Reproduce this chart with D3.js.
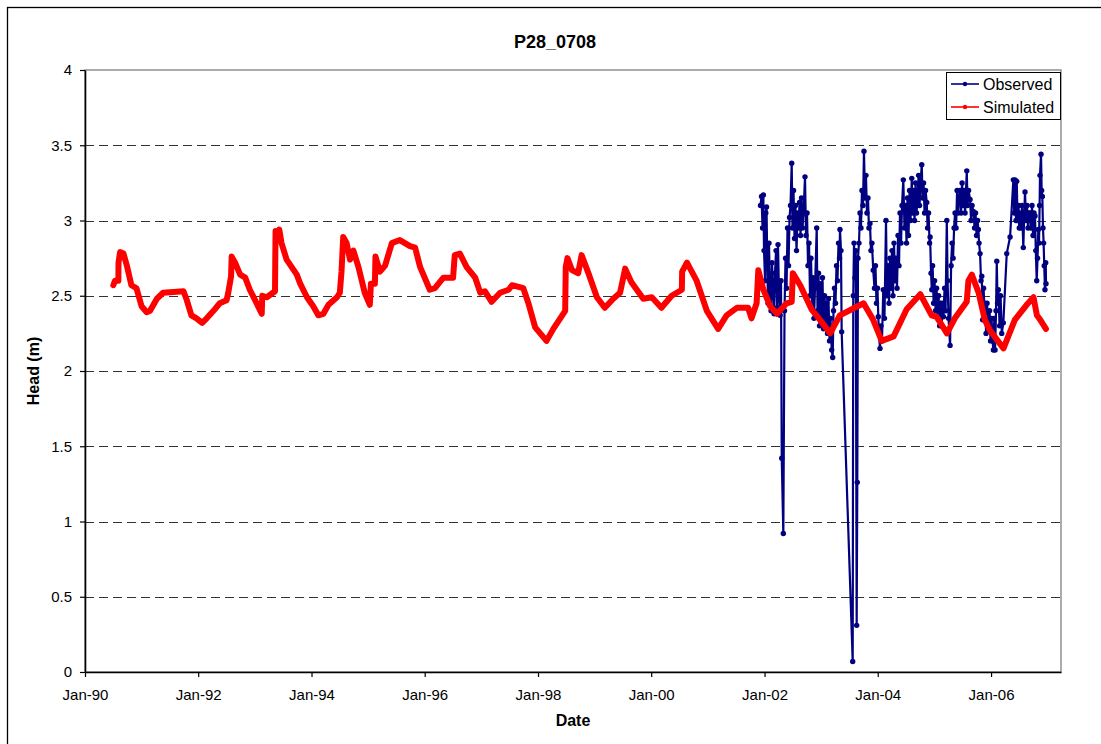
<!DOCTYPE html>
<html>
<head>
<meta charset="utf-8">
<script src="https://cdn.jsdelivr.net/npm/d3@7"></script>
<style>
  body { margin: 0; background: #fff; }
  text { font-family: "Liberation Sans", Arial, sans-serif; fill: #000; }
</style>
</head>
<body>
<svg id="chart" width="1101" height="744"></svg>
<script>
// times are decimal years, heads in m
var simT = [
  1990.50,1990.53,1990.59,1990.592,1990.62,1990.68,1990.74,1990.82,1990.91,1991.00,
  1991.09,1991.15,1991.27,1991.38,1991.74,1991.80,1991.88,1991.97,1992.07,1992.15,
  1992.27,1992.38,1992.50,1992.53,1992.58,1992.59,1992.65,1992.74,1992.83,1992.91,
  1993.03,1993.12,1993.13,1993.21,1993.355,1993.36,1993.365,1993.39,1993.43,1993.47,
  1993.56,1993.74,1993.80,1993.92,1994.03,1994.12,1994.21,1994.30,1994.45,1994.50,
  1994.53,1994.56,1994.62,1994.68,1994.74,1994.83,1994.94,1995.03,1995.05,1995.12,
  1995.13,1995.21,1995.30,1995.42,1995.56,1995.74,1995.83,1995.92,1996.09,1996.18,
  1996.33,1996.50,1996.53,1996.62,1996.74,1996.89,1996.98,1997.06,1997.18,1997.33,
  1997.48,1997.54,1997.74,1997.83,1997.95,1998.15,1998.27,1998.48,1998.49,1998.52,
  1998.60,1998.71,1998.77,1998.89,1999.04,1999.18,1999.33,1999.45,1999.54,1999.65,
  1999.86,2000.01,2000.18,2000.36,2000.54,2000.545,2000.63,2000.80,2000.98,2001.18,
  2001.33,2001.51,2001.71,2001.77,2001.86,2001.89,2001.98,2002.10,2002.22,2002.39,
  2002.48,2002.50,2002.63,2002.83,2002.98,2003.16,2003.33,2003.75,2003.92,2004.07,
  2004.28,2004.51,2004.75,2004.95,2005.04,2005.22,2005.36,2005.57,2005.60,2005.66,
  2005.78,2005.89,2005.98,2006.22,2006.42,2006.63,2006.75,2006.81,2006.87,2006.97
];
var simHead = [
  2.57,2.60,2.60,2.72,2.79,2.78,2.70,2.57,2.55,2.43,
  2.39,2.40,2.48,2.52,2.53,2.47,2.37,2.35,2.32,2.35,
  2.40,2.45,2.47,2.52,2.63,2.76,2.72,2.64,2.62,2.54,
  2.45,2.38,2.50,2.49,2.53,2.76,2.93,2.89,2.94,2.85,
  2.74,2.64,2.58,2.49,2.43,2.37,2.38,2.44,2.49,2.52,
  2.66,2.89,2.85,2.74,2.80,2.69,2.52,2.44,2.58,2.58,
  2.76,2.66,2.70,2.85,2.87,2.83,2.82,2.69,2.54,2.55,
  2.62,2.62,2.77,2.78,2.69,2.62,2.52,2.53,2.46,2.52,
  2.54,2.57,2.55,2.45,2.29,2.20,2.28,2.40,2.69,2.75,
  2.67,2.65,2.77,2.65,2.49,2.42,2.48,2.52,2.68,2.59,
  2.48,2.49,2.42,2.50,2.54,2.66,2.72,2.60,2.40,2.28,
  2.37,2.42,2.42,2.35,2.45,2.67,2.54,2.43,2.38,2.45,
  2.46,2.65,2.57,2.41,2.34,2.25,2.37,2.45,2.34,2.20,
  2.23,2.41,2.51,2.37,2.36,2.25,2.35,2.46,2.60,2.64,
  2.52,2.34,2.27,2.15,2.34,2.44,2.49,2.37,2.34,2.28
];
var obsT = [
  2001.929,2001.947,2001.965,2001.979,2001.991,2002.009,2002.023,2002.035,2002.049,2002.062,
  2002.079,2002.097,2002.115,2002.132,2002.150,2002.168,2002.185,2002.203,2002.221,2002.238,
  2002.256,2002.274,2002.291,2002.304,2002.332,2002.353,2002.371,2002.389,2002.406,2002.424,
  2002.442,2002.459,2002.480,2002.494,2002.512,2002.530,2002.547,2002.565,2002.583,2002.600,
  2002.618,2002.636,2002.653,2002.671,2002.689,2002.715,2002.733,2002.751,2002.768,2002.786,
  2002.804,2002.821,2002.839,2002.857,2002.874,2002.892,2002.922,2002.936,2002.954,2002.971,
  2002.989,2003.007,2003.024,2003.042,2003.060,2003.077,2003.095,2003.113,2003.130,2003.148,
  2003.166,2003.187,2003.204,2003.219,2003.236,2003.254,2003.272,2003.289,2003.307,2003.325,
  2003.333,2003.351,2003.363,2003.558,2003.568,2003.581,2003.598,2003.612,2003.628,2003.639,
  2003.651,2003.669,2003.687,2003.704,2003.722,2003.740,2003.757,2003.775,2003.792,2003.810,
  2003.828,2003.845,2003.863,2003.881,2003.898,2003.921,2003.943,2003.960,2003.978,2003.996,
  2004.010,2004.022,2004.040,2004.057,2004.075,2004.098,2004.119,2004.146,2004.163,2004.181,
  2004.199,2004.216,2004.234,2004.252,2004.269,2004.287,2004.305,2004.322,2004.340,2004.358,
  2004.375,2004.393,2004.411,2004.428,2004.451,2004.472,2004.490,2004.508,2004.525,2004.543,
  2004.561,2004.578,2004.600,2004.614,2004.631,2004.649,2004.667,2004.684,2004.702,2004.720,
  2004.737,2004.755,2004.776,2004.790,2004.808,2004.826,2004.843,2004.864,2004.879,2004.896,
  2004.914,2004.923,2004.940,2004.953,2004.967,2004.985,2005.002,2005.020,2005.038,2005.055,
  2005.073,2005.091,2005.108,2005.126,2005.144,2005.158,2005.179,2005.196,2005.218,2005.232,
  2005.249,2005.276,2005.294,2005.311,2005.329,2005.347,2005.364,2005.382,2005.400,2005.417,
  2005.435,2005.453,2005.470,2005.488,2005.506,2005.523,2005.541,2005.571,2005.585,2005.603,
  2005.629,2005.647,2005.664,2005.687,2005.709,2005.726,2005.744,2005.762,2005.776,2005.788,
  2005.806,2005.823,2005.836,2005.850,2005.868,2005.885,2005.894,2005.912,2005.929,2005.952,
  2005.974,2005.991,2006.009,2006.027,2006.041,2006.057,2006.071,2006.088,2006.101,2006.115,
  2006.129,2006.150,2006.168,2006.189,2006.217,2006.277,2006.336,2006.394,2006.410,2006.424,
  2006.441,2006.454,2006.468,2006.486,2006.498,2006.512,2006.530,2006.547,2006.570,2006.583,
  2006.600,2006.618,2006.636,2006.653,2006.671,2006.689,2006.706,2006.724,2006.742,2006.759,
  2006.777,2006.791,2006.807,2006.821,2006.835,2006.848,2006.858,2006.865,2006.883,2006.894,
  2006.906,2006.918,2006.929,2006.940,2006.953,2006.966,2006.971
];
var obsHead = [
  3.10,3.16,2.95,3.17,2.80,2.60,3.05,3.09,2.70,2.45,
  2.85,2.50,2.40,2.72,2.55,2.38,2.65,2.80,2.42,2.84,
  2.50,2.37,2.60,1.42,0.92,2.40,2.75,2.55,2.95,2.70,
  3.02,3.10,3.38,2.95,3.20,2.88,3.10,2.80,3.05,2.95,
  3.12,2.90,3.15,2.95,3.05,3.29,2.90,3.05,2.70,2.85,
  2.50,2.75,2.45,2.62,2.35,2.55,2.95,2.40,2.65,2.30,
  2.58,2.35,2.62,2.28,2.50,2.30,2.45,2.25,2.48,2.20,
  2.35,2.14,2.09,2.40,2.55,2.45,2.70,2.60,2.85,2.75,
  2.94,2.80,2.26,0.07,2.50,2.85,2.62,2.80,0.31,1.26,
  2.75,2.85,3.05,2.95,3.20,3.10,3.46,3.15,3.30,3.05,
  3.15,2.95,2.98,2.80,2.85,2.67,2.55,2.70,2.45,2.55,
  2.36,2.25,2.15,2.30,2.20,2.54,2.35,3.00,2.50,2.70,
  2.45,2.75,2.55,2.80,2.50,2.85,2.60,2.75,2.55,2.90,
  2.70,3.05,2.85,3.10,3.27,2.95,3.10,2.85,3.15,2.90,
  3.20,3.00,3.28,3.05,3.20,3.00,3.25,3.05,3.15,3.30,
  3.10,3.25,3.37,3.15,3.25,3.05,3.20,3.12,2.95,3.05,
  2.85,2.89,2.65,2.54,2.70,2.45,2.60,2.40,2.55,2.35,
  2.50,2.30,2.45,2.30,2.45,2.36,2.55,2.40,3.00,2.60,
  2.35,2.17,2.70,2.85,2.75,2.95,3.05,2.95,3.20,3.05,
  3.15,3.20,3.05,3.25,3.10,3.20,3.05,3.33,3.10,3.20,
  3.14,3.00,3.10,3.06,2.95,3.05,2.90,3.00,2.94,2.85,
  2.78,2.60,2.63,2.34,2.55,2.40,2.45,2.25,2.45,2.27,
  2.40,2.20,2.35,2.20,2.14,2.35,2.14,2.40,2.73,2.45,
  2.54,2.30,2.50,2.25,2.32,2.78,2.89,3.27,3.05,3.27,
  3.00,3.26,3.00,3.10,2.95,3.05,2.95,3.10,2.82,3.00,
  3.19,3.00,3.10,2.95,3.05,3.05,2.95,3.10,2.90,3.05,
  3.03,2.80,2.60,2.75,2.94,2.85,3.10,3.30,3.44,3.20,
  3.16,2.95,2.85,2.70,2.54,2.72,2.58
];
var yTicks = [0, 0.5, 1, 1.5, 2, 2.5, 3, 3.5, 4];
var xTickYears = [1990, 1992, 1994, 1996, 1998, 2000, 2002, 2004, 2006];
var xFirst = 1990, xLast = 2007.236;
var seriesNames = ['Observed', 'Simulated'];
var seriesColors = ['#000080', '#ff0000'];

var svg = d3.select('#chart'),
  pLeft = 85, pRight = 1061, pTop = 70, pBottom = 672;

function toDate(t) {
  var yr = Math.floor(t), a = Date.UTC(yr, 0, 1), b = Date.UTC(yr + 1, 0, 1);
  return new Date(a + (t - yr) * (b - a));
}

function zipSeries(ts, vs) {
  return ts.map(function (t, i) { return { date: toDate(t), v: vs[i] }; });
}

var x = d3.scaleUtc().domain([toDate(xFirst), toDate(xLast)]).range([pLeft, pRight]);
var y = d3.scaleLinear().domain([0, 4]).range([pBottom, pTop]);

// outer chart frame
svg.append('rect')
  .attr('x', 7.5).attr('y', 7.5).attr('width', 1100).attr('height', 745)
  .attr('fill', '#fff').attr('stroke', '#000').attr('stroke-width', 1.3);

// plot area border
svg.append('rect')
  .attr('x', pLeft).attr('y', pTop).attr('width', pRight - pLeft).attr('height', pBottom - pTop)
  .attr('fill', 'none').attr('stroke', '#808080').attr('stroke-width', 1.3);

svg.append('g').selectAll('line')
  .data(yTicks.filter(function (d) { return d > 0 && d < 4; }))
  .enter().append('line')
  .attr('x1', pLeft).attr('x2', pRight)
  .attr('y1', function (d) { return Math.round(y(d)) + 0.5; })
  .attr('y2', function (d) { return Math.round(y(d)) + 0.5; })
  .attr('stroke', '#333').attr('stroke-width', 1)
  .attr('stroke-dasharray', '9,5');

var line = d3.line()
  .x(function (d) { return x(d.date); })
  .y(function (d) { return y(d.v); });

var obs = zipSeries(obsT, obsHead), sim = zipSeries(simT, simHead);

svg.append('path').datum(obs)
  .attr('fill', 'none').attr('stroke', seriesColors[0]).attr('stroke-width', 2.2)
  .attr('stroke-linejoin', 'round').attr('d', line);
svg.append('g').selectAll('circle').data(obs).enter().append('circle')
  .attr('cx', function (d) { return x(d.date); })
  .attr('cy', function (d) { return y(d.v); })
  .attr('r', 2.7).attr('fill', seriesColors[0]);

svg.append('path').datum(sim)
  .attr('fill', 'none').attr('stroke', seriesColors[1]).attr('stroke-width', 6)
  .attr('stroke-linejoin', 'round').attr('stroke-linecap', 'round').attr('d', line);

var yAxis = d3.axisLeft(y).tickValues(yTicks).tickSize(5).tickSizeOuter(0)
  .tickPadding(8).tickFormat(d3.format(''));
var xAxis = d3.axisBottom(x).tickValues(xTickYears.map(function (t) { return toDate(t); }))
  .tickSize(5).tickSizeOuter(0).tickPadding(12).tickFormat(d3.utcFormat('%b-%y'));

var gy = svg.append('g').attr('transform', 'translate(' + pLeft + ',0)').call(yAxis);
var gx = svg.append('g').attr('transform', 'translate(0,' + pBottom + ')').call(xAxis);
[gx, gy].forEach(function (g) {
  g.selectAll('text').style('font-size', '15px').attr('fill', '#000');
  g.selectAll('line').attr('stroke', '#000').attr('stroke-width', 1.2);
  g.select('.domain').attr('stroke', '#000').attr('stroke-width', 1.6);
});

svg.append('text').attr('x', 555).attr('y', 48).attr('text-anchor', 'middle')
  .style('font-size', '18px').style('font-weight', 'bold').text('P28_0708');
svg.append('text').attr('x', (pLeft + pRight) / 2).attr('y', 726).attr('text-anchor', 'middle')
  .style('font-size', '16px').style('font-weight', 'bold').text('Date');
svg.append('text').attr('transform', 'translate(39,' + (pTop + pBottom) / 2 + ') rotate(-90)')
  .attr('text-anchor', 'middle')
  .style('font-size', '16px').style('font-weight', 'bold').text('Head (m)');

// legend
var lg = svg.append('g').attr('transform', 'translate(946,72)');
lg.append('rect').attr('x', 0.5).attr('y', 0.5).attr('width', 114).attr('height', 47)
  .attr('fill', '#fff').attr('stroke', '#000').attr('stroke-width', 1);
seriesNames.forEach(function (name, i) {
  var ly = 12 + i * 23;
  lg.append('line').attr('x1', 5).attr('x2', 33).attr('y1', ly).attr('y2', ly)
    .attr('stroke', seriesColors[i]).attr('stroke-width', 1.6);
  lg.append('circle').attr('cx', 19).attr('cy', ly).attr('r', 2.2).attr('fill', seriesColors[i]);
  lg.append('text').attr('x', 37).attr('y', ly + 5.5).style('font-size', '16px').text(name);
});
</script>
</body>
</html>
